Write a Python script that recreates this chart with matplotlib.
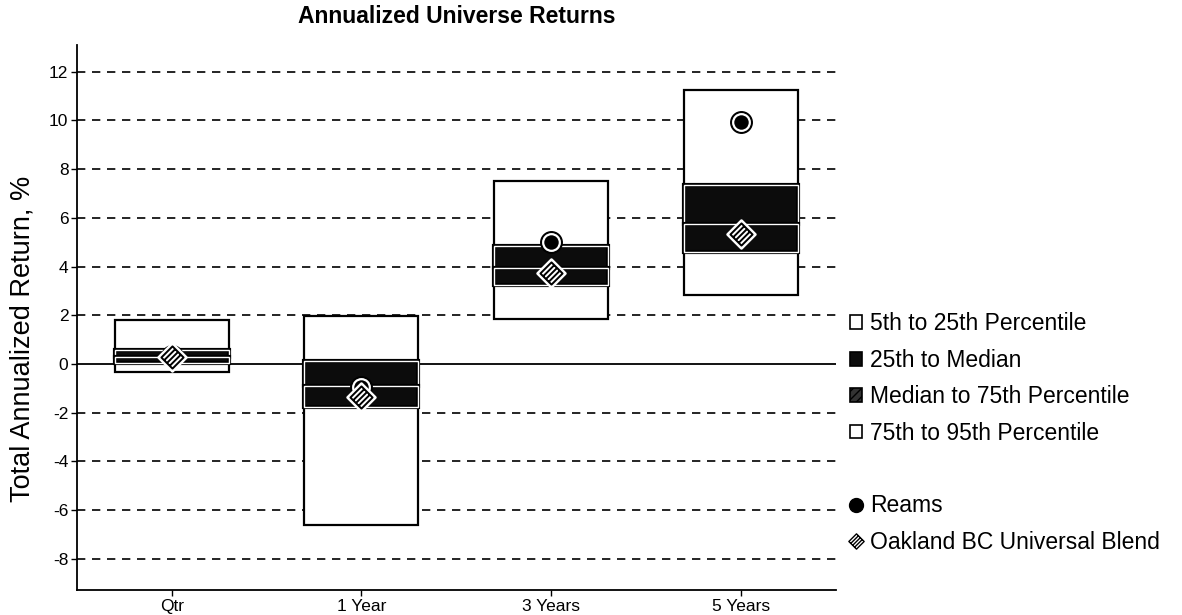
import matplotlib.pyplot as plt
import numpy as np
from matplotlib.patches import Rectangle, Patch
from matplotlib.lines import Line2D
from matplotlib.path import Path

plt.rcParams['font.family'] = ['Liberation Sans Narrow', 'Liberation Sans', 'DejaVu Sans']

# universe percentiles (top of box = 5th percentile)
periods = ['Qtr', '1 Year', '3 Years', '5 Years']
p05 = [1.80, 1.97, 7.50, 11.25]
p25 = [0.58, 0.10, 4.85, 7.35]
p50 = [0.28, -0.92, 3.95, 5.75]
p75 = [0.05, -1.75, 3.25, 4.60]
p95 = [-0.35, -6.60, 1.85, 2.85]

reams = [0.33, -0.95, 5.00, 9.95]
oakland = [0.28, -1.35, 3.75, 5.35]

yticks = np.arange(-8, 13, 2)

# diamond with diagonal stripes
verts = [(0, 1), (1, 0), (0, -1), (-1, 0), (0, 1)]
codes = [Path.MOVETO, Path.LINETO, Path.LINETO, Path.LINETO, Path.CLOSEPOLY]
for c in (-0.5, 0.0, 0.5):
    verts += [((c - 1) / 2, (-1 - c) / 2), ((c + 1) / 2, (1 - c) / 2)]
    codes += [Path.MOVETO, Path.LINETO]
striped_diamond = Path(verts, codes)

fig = plt.figure(figsize=(11.82, 6.15), dpi=100)
ax = fig.add_axes([0.065, 0.04, 0.642, 0.887])

x = np.arange(len(periods))
w = 0.6
dark = '#0c0c0c'

for i in x:
    left = i - w / 2
    # white outer box 5th..95th
    ax.add_patch(Rectangle((left, p95[i]), w, p05[i] - p95[i], facecolor='white',
                           edgecolor='black', lw=1.6, zorder=2))
    # dark inner bands 25th..median and median..75th
    for lo, hi in ((p50[i], p25[i]), (p75[i], p50[i])):
        ax.add_patch(Rectangle((left, lo), w, hi - lo, facecolor=dark,
                               edgecolor='black', lw=3, zorder=3))
        ax.add_patch(Rectangle((left, lo), w, hi - lo, fill=False,
                               edgecolor='white', lw=1.0, zorder=3))

# dashed grid and solid zero line
for t in yticks:
    if t == 0:
        ax.axhline(0, color='black', lw=1.3, zorder=1)
    else:
        ax.axhline(t, color='black', lw=1.2, ls=(0, (5, 4)), zorder=0)

# Reams: black dot with white ring
ax.plot(x, reams, 'o', ms=15.5, color='black', zorder=5)
ax.plot(x, reams, 'o', ms=12, mfc='black', mec='white', mew=1.6, zorder=5)

# Oakland: striped diamond with white halo
ax.plot(x, oakland, marker=striped_diamond, ls='none', ms=20, mfc='white',
        mec='white', mew=2, zorder=6)
ax.plot(x, oakland, marker=striped_diamond, ls='none', ms=16, mfc='white',
        mec='black', mew=1.4, zorder=6)

ax.set_xlim(-0.5, len(periods) - 0.5)
ax.set_ylim(-9.3, 13.1)
ax.set_xticks(x)
ax.set_xticklabels(periods, fontsize=12.5)
ax.set_yticks(yticks)
ax.set_yticklabels([str(t) for t in yticks], fontsize=12.5)
ax.tick_params(axis='both', length=4, width=1, pad=2)
for side in ('top', 'right'):
    ax.spines[side].set_visible(False)
for side in ('left', 'bottom'):
    ax.spines[side].set_linewidth(1.3)

ax.set_ylabel('Total Annualized Return, %', fontsize=19.5,
              family=['Liberation Sans', 'DejaVu Sans'])
ax.yaxis.set_label_coords(-0.054, 0.462)
ax.set_title('Annualized Universe Returns', fontsize=16.5, fontweight='bold',
             family=['Liberation Sans', 'DejaVu Sans'], pad=16)

handles = [
    Patch(facecolor='white', edgecolor='black', lw=1.2),
    Patch(facecolor=dark, edgecolor='black', lw=1.2),
    Patch(facecolor='#333333', edgecolor='black', lw=1.2, hatch='////'),
    Patch(facecolor='white', edgecolor='black', lw=1.2),
    Line2D([], [], ls='none'),
    Line2D([], [], ls='none', marker='o', ms=10, color='black'),
    Line2D([], [], ls='none', marker=striped_diamond, ms=11, mfc='white', mec='black', mew=1),
]
labels = ['5th to 25th Percentile', '25th to Median', 'Median to 75th Percentile',
          '75th to 95th Percentile', ' ', 'Reams', 'Oakland BC Universal Blend']
fig.legend(handles, labels, loc='upper left', bbox_to_anchor=(0.711, 0.507),
           frameon=False, handlelength=0.55, handleheight=0.55,
           handletextpad=0.35, labelspacing=0.585, borderaxespad=0,
           prop={'family': ['Liberation Sans', 'DejaVu Sans'], 'size': 16.5})

fig.savefig('out.png', dpi=100)
